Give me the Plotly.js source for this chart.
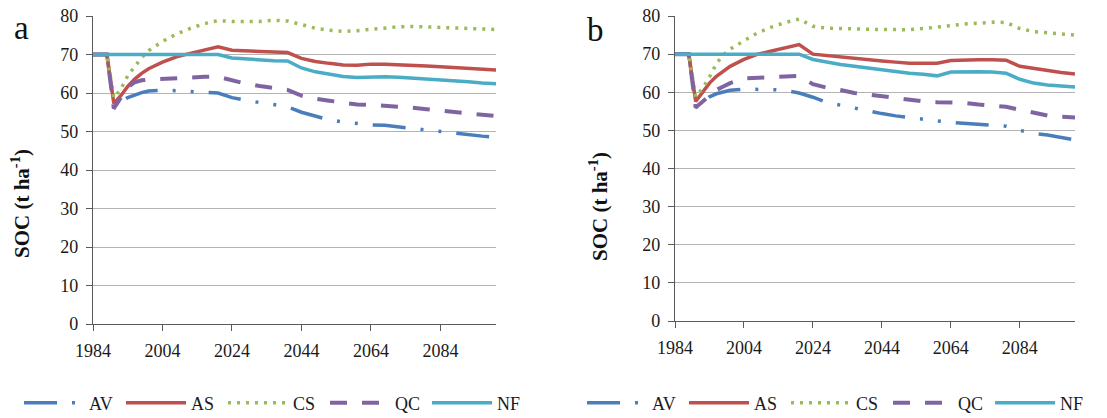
<!DOCTYPE html>
<html>
<head>
<meta charset="utf-8">
<script src="https://cdn.plot.ly/plotly-3.0.1.min.js"></script>
<style>html,body{margin:0;padding:0;background:#fff;}#chart{width:1107px;height:418px;}</style>
</head>
<body>
<div id="chart"></div>
<script>
// ---- data ----
var years = [1984,1988,1990,1992,1994,1996,1998,2000,2004,2008,2012,2016,2020,2024,2028,2032,2036,2040,2044,2048,2052,2056,2060,2064,2068,2072,2076,2080,2084,2088,2092,2096,2100];
var seriesNames = ["AV","AS","CS","QC","NF"];

// panel a
var avA = [70,70,56,57.8,58.8,59.5,60.1,60.5,60.7,60.6,60.4,60.2,60.0,58.8,58.1,57.5,57.0,56.4,55.0,54.0,53.0,52.5,52.0,51.7,51.6,51.2,50.7,50.3,49.8,49.4,49.1,48.8,48.5];
var asA = [70,70,57.3,59.3,61.7,63.6,65.1,66.3,68.0,69.4,70.3,71.2,72.0,71.1,70.9,70.7,70.5,70.5,69.0,68.2,67.7,67.3,67.2,67.5,67.5,67.4,67.3,67.0,66.8,66.6,66.4,66.2,66.0];
var csA = [70,70,58.7,61,64.5,66.8,69.2,71.0,73.4,75.3,76.8,78.0,78.8,78.6,78.5,78.6,78.9,78.7,77.8,76.8,76.3,76.0,76.2,76.6,77.0,77.2,77.3,77.2,76.9,76.9,76.8,76.6,76.5];
var qcA = [70,70,56,59,61.5,62.8,63.3,63.5,63.7,63.8,64.0,64.2,64.2,63.2,62.4,61.8,61.4,60.8,59.3,58.5,58.0,57.4,57.0,56.9,56.7,56.5,56.2,55.8,55.4,55.0,54.7,54.3,54.0];
var nfA = [70,70,70,70,70,70,70,70,70,70,70,70,70,69.1,68.8,68.5,68.4,68.3,66.5,65.5,64.8,64.3,64.0,64.2,64.2,64.1,63.9,63.6,63.4,63.1,62.9,62.6,62.4];

// panel b
var avB = [70,70,56,57.5,58.8,59.6,60.1,60.5,60.8,60.8,60.7,60.5,59.8,58.7,57.3,56.6,55.8,55.1,54.4,53.8,53.3,52.9,52.5,52.1,51.9,51.7,51.4,51.1,50.0,49.2,48.8,48.1,47.5];
var asB = [70,70,57.6,60,62.4,64.2,65.6,66.8,68.6,70.0,70.8,71.7,72.5,70.0,69.6,69.3,69.0,68.6,68.2,67.9,67.6,67.6,67.6,68.3,68.5,68.5,68.5,68.4,66.8,66.2,65.7,65.2,64.8];
var csB = [70,70,58.8,61,64,67.5,69.8,71.3,73.5,75.6,77.1,78.3,79.2,77.3,76.8,76.6,76.6,76.5,76.4,76.4,76.4,76.7,77.1,77.6,77.9,78.1,78.4,78.3,76.7,75.9,75.6,75.3,75.0];
var qcB = [70,70,56,57.5,59.2,60.6,61.5,62.4,63.6,63.8,64.1,64.3,64.3,62.1,61.2,60.6,59.8,59.4,58.9,58.5,58.0,57.6,57.4,57.3,57.2,56.8,56.6,56.2,55.4,54.6,53.9,53.6,53.4];
var nfB = [70,70,70,70,70,70,70,70,70,70,70,70,70,68.6,67.9,67.3,66.8,66.3,65.8,65.4,65.0,64.7,64.3,65.3,65.4,65.4,65.3,65.0,63.4,62.4,61.9,61.6,61.4];

var xTicks = [1984,2004,2024,2044,2064,2084];
var yTicks = [0,10,20,30,40,50,60,70,80];
var panelLabels = ["a","b"];
var yTitle = "<b>SOC (t ha<sup>-1</sup>)</b>";

// ---- styles ----
var styles = {
  AV: {color:"#4A7EBB", dash:"33px,15px,3px,15px,3px,15px", width:3.5},
  AS: {color:"#C0504D", dash:"solid", width:3.5},
  CS: {color:"#9BBB59", dash:"3px,6px", width:3.5},
  QC: {color:"#8064A2", dash:"17px,15px", width:4},
  NF: {color:"#4BACC6", dash:"solid", width:3.5}
};

var panelA = [avA, asA, csA, qcA, nfA];
var panelB = [avB, asB, csB, qcB, nfB];

var traces = [];
function addPanel(data, xa, ya, leg) {
  for (var i = 0; i < seriesNames.length; i++) {
    var s = styles[seriesNames[i]];
    traces.push({
      type: "scatter", mode: "lines",
      x: years, y: data[i],
      xaxis: xa, yaxis: ya,
      name: seriesNames[i],
      legend: leg,
      line: {color: s.color, dash: s.dash, width: s.width},
      hoverinfo: "x+y+name"
    });
  }
}
addPanel(panelA, "x", "y", "legend");
addPanel(panelB, "x2", "y2", "legend2");

var serif = "Liberation Serif, Times New Roman, serif";
function xAxis(domain, anchor) {
  return {
    domain: domain, anchor: anchor,
    range: [1984, 2100],
    tickmode: "array", tickvals: xTicks, ticktext: xTicks.map(String),
    showgrid: false, zeroline: false,
    showline: true, linecolor: "#5a5a5a", linewidth: 1.3,
    ticks: "outside", ticklen: 6, tickcolor: "#5a5a5a", tickwidth: 1.3,
    tickfont: {family: serif, size: 18, color: "#1a1a1a"},
    ticklabelstandoff: 4,
    fixedrange: true
  };
}
function yAxis(domain, anchor) {
  return {
    domain: domain, anchor: anchor,
    range: [0, 80],
    tickmode: "array", tickvals: yTicks,
    showgrid: true, gridcolor: "#b3b3b3", gridwidth: 1.3,
    zeroline: false,
    showline: true, linecolor: "#5a5a5a", linewidth: 1.3,
    ticks: "outside", ticklen: 6, tickcolor: "#5a5a5a", tickwidth: 1.3,
    tickfont: {family: serif, size: 18, color: "#1a1a1a"},
    ticklabelstandoff: 4,
    fixedrange: true
  };
}

var legendCommon = {
  orientation: "h",
  yanchor: "middle", y: 0.036,
  xanchor: "left",
  font: {family: serif, size: 18, color: "#1a1a1a"},
  bgcolor: "rgba(0,0,0,0)",
  entrywidth: 27, entrywidthmode: "pixels",
  itemwidth: 60,
  traceorder: "normal"
};

var layout = {
  width: 1107, height: 418,
  margin: {l: 0, r: 0, t: 0, b: 0, autoexpand: false},
  paper_bgcolor: "#fff", plot_bgcolor: "#fff",
  showlegend: true,
  xaxis: xAxis([93/1107, 496/1107], "y"),
  yaxis: yAxis([1 - 324/418, 1 - 16/418], "x"),
  xaxis2: xAxis([675/1107, 1075/1107], "y2"),
  yaxis2: yAxis([1 - 321/418, 1 - 16/418], "x2"),
  legend: Object.assign({}, legendCommon, {x: 19/1107}),
  legend2: Object.assign({}, legendCommon, {x: 582/1107}),
  annotations: [
    {text: panelLabels[0], xref: "paper", yref: "paper", x: 21/1107, y: 1 - 28/418, xanchor: "center", yanchor: "middle", showarrow: false, font: {family: serif, size: 33, color: "#111"}},
    {text: panelLabels[1], xref: "paper", yref: "paper", x: 595/1107, y: 1 - 30/418, xanchor: "center", yanchor: "middle", showarrow: false, font: {family: serif, size: 33, color: "#111"}},
    {text: yTitle, xref: "paper", yref: "paper", x: 20/1107, y: 1 - 204/418, xanchor: "center", yanchor: "middle", textangle: -90, showarrow: false, font: {family: serif, size: 21, color: "#111"}},
    {text: yTitle, xref: "paper", yref: "paper", x: 598/1107, y: 1 - 207/418, xanchor: "center", yanchor: "middle", textangle: -90, showarrow: false, font: {family: serif, size: 21, color: "#111"}}
  ]
};

Plotly.newPlot("chart", traces, layout, {displayModeBar: false});
</script>
</body>
</html>
